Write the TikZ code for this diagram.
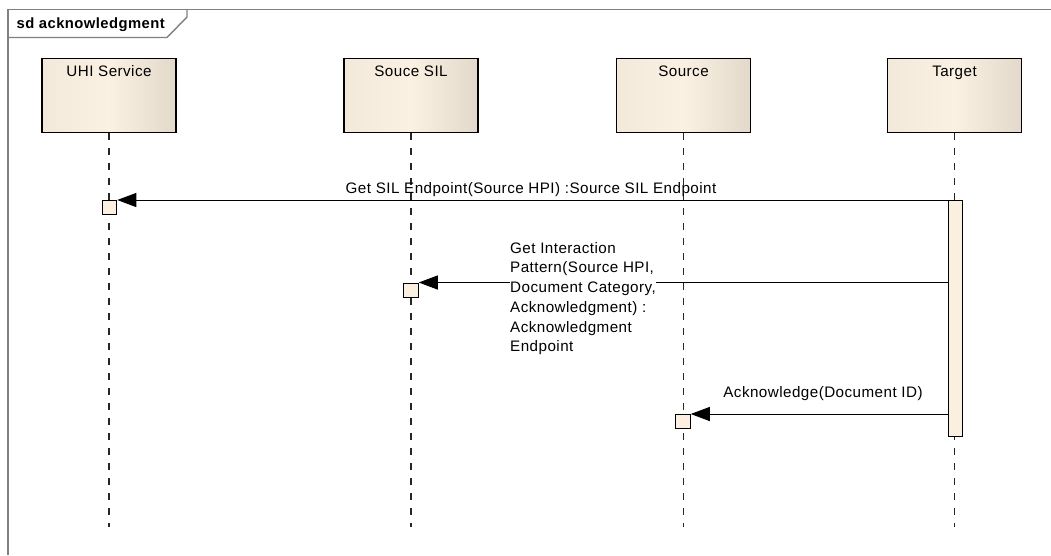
\documentclass[tikz,border=0pt]{standalone}
\usepackage{fontspec}
\setmainfont{Liberation Sans}[LetterSpace=3]
\usetikzlibrary{arrows.meta}
\definecolor{lifeL}{HTML}{F2E9DB}
\definecolor{lifeM}{HTML}{FAF1E3}
\definecolor{lifeR}{HTML}{E3D9CB}
\definecolor{actfill}{HTML}{FBF0E0}
\definecolor{framegray}{HTML}{808080}
\begin{document}
\begin{tikzpicture}[x=1pt,y=-1pt,
  every node/.style={font=\fontsize{15.2}{19.7}\selectfont, inner sep=0pt},
  framestyle/.style={draw=framegray, line width=1.4pt},
  lifebox/.style={draw=black, line width=1.3pt, anchor=north,
    minimum width=134pt, minimum height=74pt,
    left color=lifeL, right color=lifeR, middle color=lifeM},
  lifename/.style={anchor=base},
  lifeline/.style={draw=black!85, line width=1.4pt, dash pattern=on 7pt off 8pt},
  actbar/.style={draw=black, line width=1pt, fill=actfill, anchor=north,
    minimum width=14pt, minimum height=236pt},
  actsq/.style={draw=black, line width=1pt, fill=actfill, anchor=north,
    minimum width=14.5pt, minimum height=14pt},
  msg/.style={draw=black, line width=1pt, -{Triangle[length=19pt,width=14pt]}},
  msglabel/.style={anchor=base}]
\useasboundingbox (0,0) rectangle (1051,555);
\fill[white] (0,0) rectangle (1051,555);

% diagram frame and its name tab
\draw[framestyle] (8,555) -- (8,9.5) -- (1051,9.5);
\draw[framestyle] (8,37.5) -- (167,37.5) -- (187,17) -- (187,9.5);
\node[anchor=base west, font=\fontsize{14.8}{19.7}\selectfont\bfseries] (fname) at (16.5,28.5) {sd acknowledgment};

% lifeline heads
\coordinate (lifeend) at (0,527);
\node[lifebox] (uhi) at (109,58) {};
\node[lifebox] (sil) at (411,58) {};
\node[lifebox] (src) at (683.5,58) {};
\node[lifebox] (tgt) at (954.5,58) {};
\node[lifename] (uhiname) at (109,76) {UHI Service};
\node[lifename] (silname) at (411,76) {Souce SIL};
\node[lifename] (srcname) at (683.5,76) {Source};
\node[lifename] (tgtname) at (954.5,76) {Target};

% lifelines
\draw[lifeline] (uhi.south) -- (uhi.south |- lifeend);
\draw[lifeline] (sil.south) -- (sil.south |- lifeend);
\draw[lifeline] (src.south) -- (src.south |- lifeend);
\draw[lifeline] (tgt.south) -- (tgt.south |- lifeend);

% activations
\node[actbar] (tact) at (955,200) {};
\node[actsq] (sq1) at (109.5,200) {};
\node[actsq] (sq2) at (411,282.5) {};
\node[actsq] (sq3) at (683,414) {};

% messages
\draw[msg] (tact.west |- sq1.north) -- (sq1.north east);
\node[msglabel] (m1) at (531,193) {Get SIL Endpoint(Source HPI) :Source SIL Endpoint};

\draw[msg] (tact.west |- sq2.north) -- (sq2.north east);
\node[anchor=north west, align=left, fill=white] (m2) at (510,242)
  {Get Interaction\\Pattern(Source HPI,\\Document Category,\\Acknowledgment) :\\Acknowledgment\\Endpoint};

\draw[msg] (tact.west |- sq3.north) -- (sq3.north east);
\node[msglabel] (m3) at (823,397) {Acknowledge(Document ID)};
\end{tikzpicture}
\end{document}
